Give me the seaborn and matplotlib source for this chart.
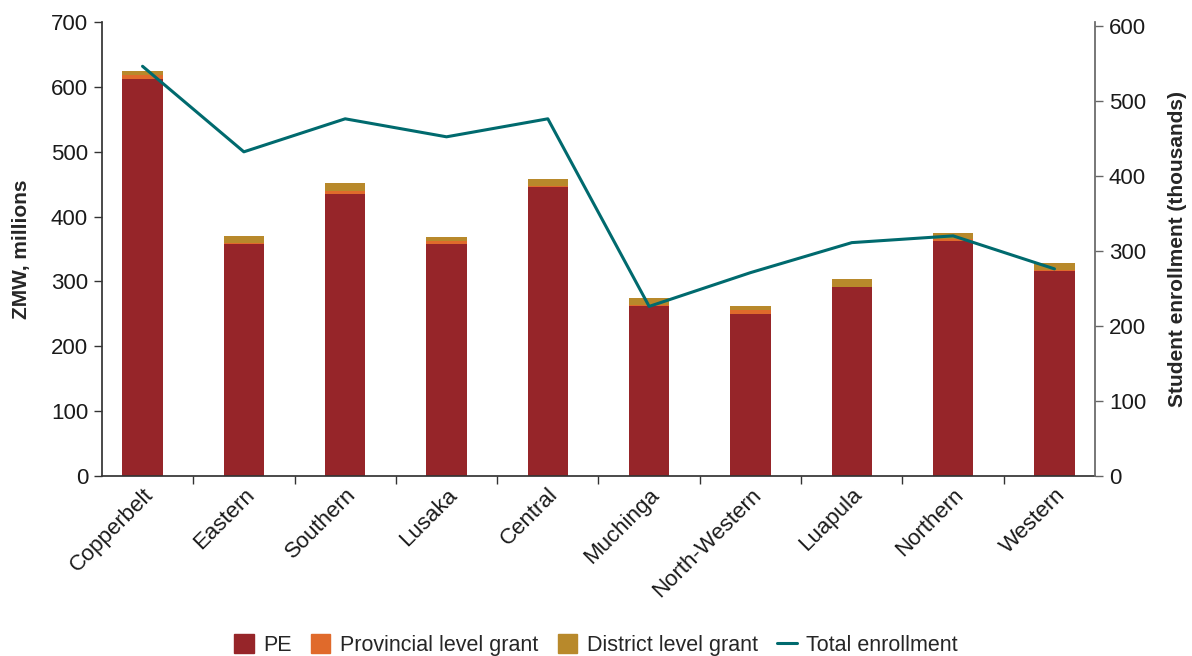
import numpy as np
import pandas as pd
import matplotlib
matplotlib.use("Agg")
import matplotlib.pyplot as plt
import seaborn as sns
from matplotlib.patches import Patch
from matplotlib.lines import Line2D
from matplotlib.ticker import FixedLocator

regions = ["Copperbelt", "Eastern", "Southern", "Lusaka", "Central",
           "Muchinga", "North-Western", "Luapula", "Northern", "Western"]
pe = [612, 358, 435, 358, 446, 262, 250, 291, 362, 316]
provincial = [6, 1, 4, 4, 1, 1, 6, 1, 4, 1]
district = [6, 11, 13, 6, 11, 11, 6, 12, 9, 11]
enrollment = [546, 432, 476, 452, 476, 226, 271, 311, 320, 276]

c_pe = "#962529"
c_prov = "#E06A2B"
c_dist = "#B8892B"
c_line = "#006A6E"

sns.set_theme(style="white")
plt.rcParams['font.family'] = ['Liberation Sans', 'DejaVu Sans']

df = pd.DataFrame({"region": regions, "pe": pe, "prov": provincial,
                   "dist": district, "enr": enrollment})
df["s1"] = df["pe"]
df["s2"] = df["pe"] + df["prov"]
df["s3"] = df["s2"] + df["dist"]

fig = plt.figure(figsize=(11.92, 6.56), dpi=100)
ax = fig.add_axes([102/1192, 1 - 476/656, (1095-102)/1192, (476-22)/656])

sns.barplot(data=df, x="region", y="s3", color=c_dist, width=0.4, ax=ax,
            saturation=1, edgecolor="none")
sns.barplot(data=df, x="region", y="s2", color=c_prov, width=0.4, ax=ax,
            saturation=1, edgecolor="none")
sns.barplot(data=df, x="region", y="s1", color=c_pe, width=0.4, ax=ax,
            saturation=1, edgecolor="none")

ax.set_ylim(0, 700)
ax.set_yticks(range(0, 701, 100))
ax.set_xlim(-0.4, 9.4)
ax.set_xlabel("")
ax.set_ylabel("ZMW, millions", fontsize=15, fontweight="bold", labelpad=14)

ax2 = ax.twinx()
sns.lineplot(x=np.arange(len(regions)), y=df["enr"], ax=ax2, color=c_line,
             linewidth=2.2)
ax2.set_ylim(0, 605)
ax2.set_yticks(range(0, 601, 100))
ax2.set_ylabel("Student enrollment (thousands)", fontsize=15,
               fontweight="bold", labelpad=16)
ax2.set_xlim(-0.4, 9.4)

for a in (ax, ax2):
    for s in a.spines.values():
        s.set_visible(False)

ax.spines["left"].set_visible(True)
ax.spines["left"].set_color("#333333")
ax.spines["bottom"].set_visible(True)
ax.spines["bottom"].set_color("#333333")
ax2.spines["right"].set_visible(True)
ax2.spines["right"].set_color("#666666")

ax.tick_params(axis="y", direction="out", length=6, width=1, color="#333333",
               labelsize=16, left=True, pad=4, labelcolor="#1a1a1a")
ax2.tick_params(axis="y", direction="out", length=6, width=1, color="#666666",
                labelsize=16, right=True, pad=4, labelcolor="#1a1a1a")
ax.set_xticks(range(len(regions)))
ax.set_xticklabels(regions, rotation=45, ha="right", rotation_mode="anchor",
                   fontsize=16, color="#1a1a1a")
ax.tick_params(axis="x", which="major", length=0, pad=6)
ax.xaxis.set_minor_locator(FixedLocator(np.arange(-0.5, 9.6, 1.0)[1:]))
ax.tick_params(axis="x", which="minor", direction="out", length=6, width=1,
               color="#333333", bottom=True)

handles = [Patch(color=c_pe, label="PE"),
           Patch(color=c_prov, label="Provincial level grant"),
           Patch(color=c_dist, label="District level grant"),
           Line2D([0], [0], color=c_line, lw=2.2, label="Total enrollment")]
fig.legend(handles=handles, loc="center", bbox_to_anchor=(0.5, 1 - 645/656),
           ncol=4, frameon=False, fontsize=15.5, handlelength=0.9,
           handleheight=1.0, columnspacing=0.9, handletextpad=0.45)

fig.savefig("out.png", dpi=100)
